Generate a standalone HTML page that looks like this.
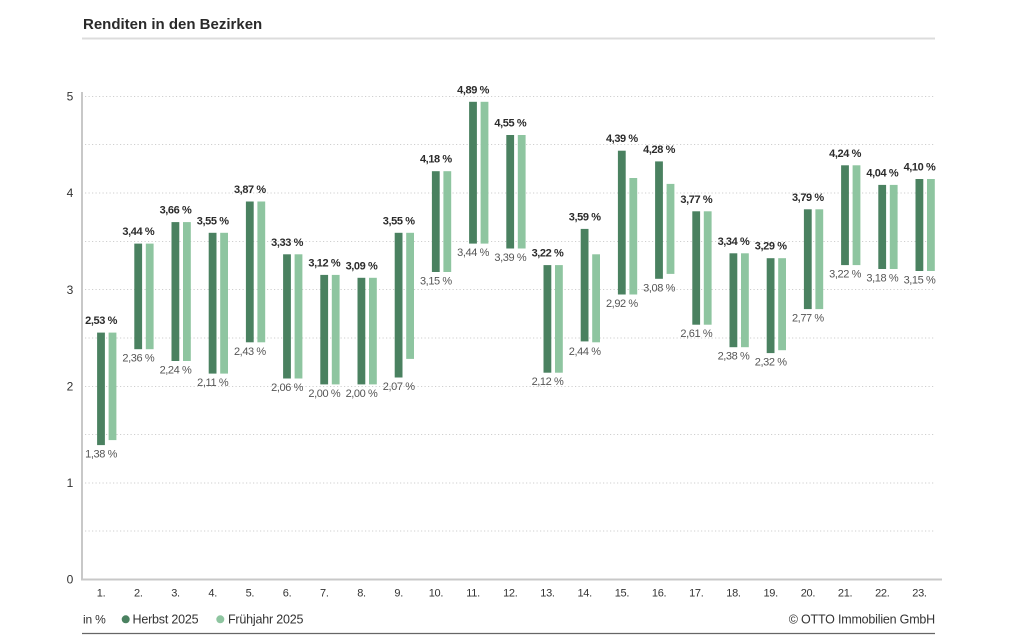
<!DOCTYPE html>
<html><head><meta charset="utf-8"><style>
html,body{margin:0;padding:0;background:#fff;}
svg{display:block;font-family:"Liberation Sans",sans-serif;}
</style></head><body>
<svg width="1024" height="640" viewBox="0 0 1024 640" xmlns="http://www.w3.org/2000/svg">
<rect width="1024" height="640" fill="#fff"/>
<text x="83" y="29" font-size="15" font-weight="bold" fill="#2a2a2a">Renditen in den Bezirken</text>
<line x1="82" y1="38.5" x2="935" y2="38.5" stroke="#dcdcdc" stroke-width="2"/>
<g stroke="#cfcfcf" stroke-width="1" stroke-dasharray="1.2 2.3">
<line x1="85" y1="96.5" x2="935" y2="96.5"/>
<line x1="85" y1="144.5" x2="935" y2="144.5"/>
<line x1="85" y1="193" x2="935" y2="193"/>
<line x1="85" y1="241.5" x2="935" y2="241.5"/>
<line x1="85" y1="289.5" x2="935" y2="289.5"/>
<line x1="85" y1="338" x2="935" y2="338"/>
<line x1="85" y1="386.5" x2="935" y2="386.5"/>
<line x1="85" y1="434.5" x2="935" y2="434.5"/>
<line x1="85" y1="483" x2="935" y2="483"/>
<line x1="85" y1="531" x2="935" y2="531"/>
</g>
<line x1="82" y1="92" x2="82" y2="580" stroke="#c8c8c8" stroke-width="2"/>
<line x1="81" y1="579.5" x2="942" y2="579.5" stroke="#c8c8c8" stroke-width="2"/>
<g font-size="12" fill="#333" text-anchor="middle">
<text x="70" y="100.5">5</text>
<text x="70" y="197">4</text>
<text x="70" y="294">3</text>
<text x="70" y="390.5">2</text>
<text x="70" y="487">1</text>
<text x="70" y="583.5">0</text>
</g>
<g id="bars"></g>
<g font-size="11" fill="#333" text-anchor="middle" letter-spacing="-0.3" id="cats"></g>
<text x="83" y="623.5" font-size="12" fill="#333" letter-spacing="-0.2">in %</text>
<circle cx="125.7" cy="619.3" r="4" fill="#4a8160"/>
<text x="132.5" y="623.5" font-size="12.5" fill="#333" letter-spacing="-0.2">Herbst 2025</text>
<circle cx="220.3" cy="619.3" r="4" fill="#8ec5a0"/>
<text x="228" y="623.5" font-size="12.5" fill="#333" letter-spacing="-0.2">Frühjahr 2025</text>
<text x="935" y="623.5" font-size="12.5" fill="#333" text-anchor="end" letter-spacing="-0.2">© OTTO Immobilien GmbH</text>
<line x1="82" y1="633.5" x2="935" y2="633.5" stroke="#666" stroke-width="1.3"/>
<g id="g1">
<!-- bars generated statically below -->
</g>
<g>
<rect x="97.1" y="332.6" width="7.8" height="112.5" fill="#4a8160"/><rect x="108.6" y="332.6" width="7.8" height="107.5" fill="#8ec5a0"/>
<rect x="134.3" y="243.6" width="7.8" height="105.6" fill="#4a8160"/><rect x="145.8" y="243.6" width="7.8" height="105.6" fill="#8ec5a0"/>
<rect x="171.5" y="222.1" width="7.8" height="138.9" fill="#4a8160"/><rect x="183.0" y="222.1" width="7.8" height="138.9" fill="#8ec5a0"/>
<rect x="208.7" y="232.8" width="7.8" height="140.8" fill="#4a8160"/><rect x="220.2" y="232.8" width="7.8" height="140.8" fill="#8ec5a0"/>
<rect x="245.9" y="201.5" width="7.8" height="140.8" fill="#4a8160"/><rect x="257.4" y="201.5" width="7.8" height="140.8" fill="#8ec5a0"/>
<rect x="283.1" y="254.3" width="7.8" height="124.2" fill="#4a8160"/><rect x="294.6" y="254.3" width="7.8" height="124.2" fill="#8ec5a0"/>
<rect x="320.3" y="274.9" width="7.8" height="109.5" fill="#4a8160"/><rect x="331.8" y="274.9" width="7.8" height="109.5" fill="#8ec5a0"/>
<rect x="357.5" y="277.8" width="7.8" height="106.6" fill="#4a8160"/><rect x="369.0" y="277.8" width="7.8" height="106.6" fill="#8ec5a0"/>
<rect x="394.7" y="232.8" width="7.8" height="144.7" fill="#4a8160"/><rect x="406.2" y="232.8" width="7.8" height="126.1" fill="#8ec5a0"/>
<rect x="431.9" y="171.2" width="7.8" height="100.8" fill="#4a8160"/><rect x="443.4" y="171.2" width="7.8" height="100.8" fill="#8ec5a0"/>
<rect x="469.1" y="101.8" width="7.8" height="141.8" fill="#4a8160"/><rect x="480.6" y="101.8" width="7.8" height="141.8" fill="#8ec5a0"/>
<rect x="506.3" y="135.0" width="7.8" height="113.5" fill="#4a8160"/><rect x="517.8" y="135.0" width="7.8" height="113.5" fill="#8ec5a0"/>
<rect x="543.5" y="265.1" width="7.8" height="107.6" fill="#4a8160"/><rect x="555.0" y="265.1" width="7.8" height="107.6" fill="#8ec5a0"/>
<rect x="580.7" y="228.9" width="7.8" height="112.5" fill="#4a8160"/><rect x="592.2" y="254.3" width="7.8" height="88.0" fill="#8ec5a0"/>
<rect x="617.9" y="150.7" width="7.8" height="143.8" fill="#4a8160"/><rect x="629.4" y="178.0" width="7.8" height="116.5" fill="#8ec5a0"/>
<rect x="655.1" y="161.4" width="7.8" height="117.4" fill="#4a8160"/><rect x="666.6" y="183.9" width="7.8" height="90.0" fill="#8ec5a0"/>
<rect x="692.3" y="211.3" width="7.8" height="113.4" fill="#4a8160"/><rect x="703.8" y="211.3" width="7.8" height="113.4" fill="#8ec5a0"/>
<rect x="729.5" y="253.3" width="7.8" height="93.9" fill="#4a8160"/><rect x="741.0" y="253.3" width="7.8" height="93.9" fill="#8ec5a0"/>
<rect x="766.7" y="258.2" width="7.8" height="94.9" fill="#4a8160"/><rect x="778.2" y="258.2" width="7.8" height="92.0" fill="#8ec5a0"/>
<rect x="803.9" y="209.3" width="7.8" height="99.8" fill="#4a8160"/><rect x="815.4" y="209.3" width="7.8" height="99.8" fill="#8ec5a0"/>
<rect x="841.1" y="165.3" width="7.8" height="99.8" fill="#4a8160"/><rect x="852.6" y="165.3" width="7.8" height="99.8" fill="#8ec5a0"/>
<rect x="878.3" y="184.9" width="7.8" height="84.1" fill="#4a8160"/><rect x="889.8" y="184.9" width="7.8" height="84.1" fill="#8ec5a0"/>
<rect x="915.5" y="179.0" width="7.8" height="92.0" fill="#4a8160"/><rect x="927.0" y="179.0" width="7.8" height="92.0" fill="#8ec5a0"/>
</g>
<g font-size="11" font-weight="bold" fill="#2b2b2b" text-anchor="middle" letter-spacing="-0.4">
<text x="101.1" y="324.1">2,53 %</text>
<text x="138.3" y="235.1">3,44 %</text>
<text x="175.5" y="213.6">3,66 %</text>
<text x="212.7" y="224.3">3,55 %</text>
<text x="249.9" y="193.0">3,87 %</text>
<text x="287.1" y="245.8">3,33 %</text>
<text x="324.3" y="266.4">3,12 %</text>
<text x="361.5" y="269.3">3,09 %</text>
<text x="398.7" y="224.3">3,55 %</text>
<text x="435.9" y="162.7">4,18 %</text>
<text x="473.1" y="93.3">4,89 %</text>
<text x="510.3" y="126.5">4,55 %</text>
<text x="547.5" y="256.6">3,22 %</text>
<text x="584.7" y="220.4">3,59 %</text>
<text x="621.9" y="142.2">4,39 %</text>
<text x="659.1" y="152.9">4,28 %</text>
<text x="696.3" y="202.8">3,77 %</text>
<text x="733.5" y="244.8">3,34 %</text>
<text x="770.7" y="249.7">3,29 %</text>
<text x="807.9" y="200.8">3,79 %</text>
<text x="845.1" y="156.8">4,24 %</text>
<text x="882.3" y="176.4">4,04 %</text>
<text x="919.5" y="170.5">4,10 %</text>
</g>
<g font-size="11" fill="#555" text-anchor="middle" letter-spacing="-0.4">
<text x="101.1" y="457.6">1,38 %</text>
<text x="138.3" y="361.7">2,36 %</text>
<text x="175.5" y="373.5">2,24 %</text>
<text x="212.7" y="386.1">2,11 %</text>
<text x="249.9" y="354.8">2,43 %</text>
<text x="287.1" y="391.0">2,06 %</text>
<text x="324.3" y="396.9">2,00 %</text>
<text x="361.5" y="396.9">2,00 %</text>
<text x="398.7" y="390.0">2,07 %</text>
<text x="435.9" y="284.5">3,15 %</text>
<text x="473.1" y="256.1">3,44 %</text>
<text x="510.3" y="261.0">3,39 %</text>
<text x="547.5" y="385.2">2,12 %</text>
<text x="584.7" y="354.8">2,44 %</text>
<text x="621.9" y="307.0">2,92 %</text>
<text x="659.1" y="291.3">3,08 %</text>
<text x="696.3" y="337.2">2,61 %</text>
<text x="733.5" y="359.7">2,38 %</text>
<text x="770.7" y="365.6">2,32 %</text>
<text x="807.9" y="321.6">2,77 %</text>
<text x="845.1" y="277.6">3,22 %</text>
<text x="882.3" y="281.5">3,18 %</text>
<text x="919.5" y="283.5">3,15 %</text>
</g>
<g font-size="11" fill="#333" text-anchor="middle" letter-spacing="-0.3">
<text x="101.1" y="596.5">1.</text>
<text x="138.3" y="596.5">2.</text>
<text x="175.5" y="596.5">3.</text>
<text x="212.7" y="596.5">4.</text>
<text x="249.9" y="596.5">5.</text>
<text x="287.1" y="596.5">6.</text>
<text x="324.3" y="596.5">7.</text>
<text x="361.5" y="596.5">8.</text>
<text x="398.7" y="596.5">9.</text>
<text x="435.9" y="596.5">10.</text>
<text x="473.1" y="596.5">11.</text>
<text x="510.3" y="596.5">12.</text>
<text x="547.5" y="596.5">13.</text>
<text x="584.7" y="596.5">14.</text>
<text x="621.9" y="596.5">15.</text>
<text x="659.1" y="596.5">16.</text>
<text x="696.3" y="596.5">17.</text>
<text x="733.5" y="596.5">18.</text>
<text x="770.7" y="596.5">19.</text>
<text x="807.9" y="596.5">20.</text>
<text x="845.1" y="596.5">21.</text>
<text x="882.3" y="596.5">22.</text>
<text x="919.5" y="596.5">23.</text>
</g>
</svg>
</body></html>
